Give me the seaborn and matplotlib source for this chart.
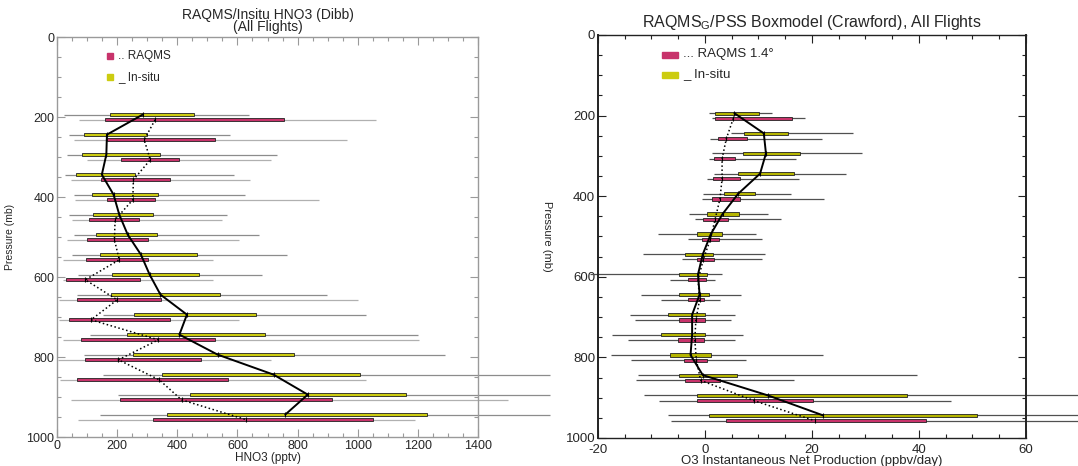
import numpy as np
import matplotlib
matplotlib.use('Agg')
import matplotlib.pyplot as plt
import seaborn as sns
from matplotlib.patches import Rectangle
from matplotlib.ticker import MultipleLocator

# ---------------- data ----------------
levels = [200, 250, 300, 350, 400, 450, 500, 550, 600, 650, 700, 750, 800, 850, 900, 950]

# Left panel: HNO3 (pptv)
hno3_ins_min = [24, 39, 33, 27, 58, 41, 58, 50, 70, 67, 154, 111, 91, 152, 204, 142]
hno3_ins_q1 = [175, 90, 84, 64, 116, 120, 131, 142, 184, 180, 257, 233, 253, 348, 443, 365]
hno3_ins_med = [285, 166, 164, 149, 188, 207, 235, 279, 308, 344, 432, 407, 534, 720, 834, 759]
hno3_ins_q3 = [457, 299, 344, 259, 336, 318, 333, 465, 471, 542, 662, 692, 788, 1007, 1159, 1229]
hno3_ins_max = [640, 576, 732, 590, 624, 564, 671, 765, 681, 898, 1028, 1200, 1290, 1640, 1640, 1640]

hno3_raq_min = [74, 55, 100, 48, 59, 50, 33, 19, 20, 8, 8, 19, 4, 11, 47, 71]
hno3_raq_q1 = [161, 166, 213, 146, 166, 105, 100, 95, 31, 67, 41, 80, 93, 67, 211, 320]
hno3_raq_med = [326, 290, 310, 254, 252, 193, 191, 207, 94, 200, 113, 337, 204, 340, 414, 630]
hno3_raq_q3 = [754, 527, 406, 377, 325, 273, 302, 302, 276, 346, 377, 524, 479, 568, 914, 1052]
hno3_raq_max = [1061, 965, 712, 643, 870, 549, 606, 520, 519, 1002, 606, 1205, 712, 1027, 1500, 1190]

# Right panel: O3 instantaneous net production (ppbv/day)
o3_ins_min = [0.8, 4.8, 1.3, 1.7, -0.4, -2.9, -8.7, -11.5, -21.5, -11.9, -14.0, -17.4, -17.5, -12.5, -11.4, -6.9]
o3_ins_q1 = [1.9, 7.3, 7.2, 6.2, 3.5, 0.4, -1.5, -3.7, -4.8, -4.8, -7.0, -8.3, -6.5, -4.8, -1.5, 0.7]
o3_ins_med = [5.5, 11.0, 11.4, 10.3, 6.2, 3.3, 1.1, -0.4, -1.3, -1.0, -2.4, -2.4, -2.7, -0.4, 11.7, 22.1]
o3_ins_q3 = [10.1, 15.6, 17.8, 16.6, 9.4, 6.3, 3.2, 1.5, 0.3, 0.7, 0.1, 0.1, 1.2, 6.0, 37.7, 50.8]
o3_ins_max = [12.5, 27.7, 29.4, 26.4, 16.0, 11.7, 9.6, 11.2, 3.1, 6.7, 5.6, 7.2, 22.1, 39.7, 75.0, 75.0]

o3_raq_min = [1.3, 1.0, 0.8, 0.3, -0.5, -1.8, -3.1, -4.2, -6.5, -8.3, -13.0, -14.4, -13.8, -12.8, -8.5, -6.3]
o3_raq_q1 = [1.9, 2.4, 1.7, 1.5, 1.3, -0.3, -0.6, -1.4, -3.2, -3.2, -4.9, -5.1, -3.9, -3.7, -1.5, 4.0]
o3_raq_med = [5.3, 4.0, 3.2, 3.2, 2.8, 1.9, 1.0, -0.3, -1.3, -1.0, -1.7, -1.9, -1.6, -0.8, 9.1, 20.5]
o3_raq_q3 = [16.2, 7.8, 5.6, 6.6, 6.5, 4.4, 2.6, 1.7, 0.2, -0.1, 0.0, -0.1, 0.3, 2.8, 20.2, 41.3]
o3_raq_max = [18.7, 21.9, 17.0, 17.5, 22.3, 14.2, 10.6, 10.6, 1.9, 2.8, 4.9, 5.7, 7.6, 16.6, 46.0, 70.0]

# ---------------- style ----------------
sns.set_style('ticks')
plt.rcParams['font.family'] = ['Liberation Sans', 'DejaVu Sans']
plt.rcParams['axes.unicode_minus'] = False

PINK = '#c8336b'
YEL_L = '#cccc10'
YEL_R = '#b5b500'

fig = plt.figure(figsize=(10.78, 4.66), dpi=100)
axL = fig.add_axes([0.0529, 0.0622, 0.3905, 0.8584])
axR = fig.add_axes([0.5547, 0.0601, 0.397, 0.8648])


def draw_panel(ax, ins, raq, col_ins, col_raq, wcol_ins, wcol_raq, h=8, off_ins=-6, off_raq=7):
    lev = np.array(levels, dtype=float)
    out = []
    for stats, off, col, wcol in ((ins, off_ins, col_ins, wcol_ins), (raq, off_raq, col_raq, wcol_raq)):
        mn, q1, md, q3, mx = [np.array(s, dtype=float) for s in stats]
        y = lev + off
        ax.hlines(y, mn, mx, color=wcol, lw=0.9, clip_on=False, zorder=1)
        ax.barh(y, q3 - q1, left=q1, height=h, color=col, edgecolor='#222222', lw=0.6, zorder=2)
        ax.vlines(md, y - h * 0.75, y + h * 0.75, color='k', lw=0.8, zorder=3)
        out.append((md, y))
    (mi, yi), (mr, yr) = out
    sns.lineplot(x=mi, y=yi, sort=False, estimator=None, color='k', lw=1.4, ax=ax, zorder=4)
    sns.lineplot(x=mr, y=yr, sort=False, estimator=None, color='k', lw=1.1, linestyle=':', ax=ax, zorder=4)


draw_panel(axL,
           (hno3_ins_min, hno3_ins_q1, hno3_ins_med, hno3_ins_q3, hno3_ins_max),
           (hno3_raq_min, hno3_raq_q1, hno3_raq_med, hno3_raq_q3, hno3_raq_max),
           YEL_L, PINK, '#8c8c8c', '#b0b0b0')
draw_panel(axR,
           (o3_ins_min, o3_ins_q1, o3_ins_med, o3_ins_q3, o3_ins_max),
           (o3_raq_min, o3_raq_q1, o3_raq_med, o3_raq_q3, o3_raq_max),
           YEL_R, PINK, '#505050', '#505050')

# ---------------- axes formatting ----------------
for ax, spc, tcol, fs in ((axL, '#9a9a9a', '#9a9a9a', 9), (axR, '#222222', '#222222', 9.5)):
    ax.set_ylim(1000, 0)
    ax.yaxis.set_major_locator(MultipleLocator(200))
    ax.yaxis.set_minor_locator(MultipleLocator(50))
    ax.tick_params(which='both', direction='in', top=True, right=True, color=tcol,
                   labelsize=fs, width=0.8)
    ax.tick_params(which='major', length=6, pad=2)
    ax.tick_params(which='minor', length=3)
    for s in ax.spines.values():
        s.set_color(spc)
        s.set_linewidth(1.0)
    ax.set_xlabel('')
    ax.set_ylabel('')

axR.tick_params(axis='x', which='major', pad=4)

axL.set_xlim(0, 1400)
axL.xaxis.set_major_locator(MultipleLocator(200))
axL.xaxis.set_minor_locator(MultipleLocator(50))
axR.set_xlim(-20, 60)
axR.xaxis.set_major_locator(MultipleLocator(20))
axR.xaxis.set_minor_locator(MultipleLocator(5))
axR.spines['left'].set_linewidth(1.4)
axR.spines['right'].set_linewidth(1.4)

axL.set_title('RAQMS/Insitu HNO3 (Dibb)\n(All Flights)', fontsize=10, pad=4, linespacing=0.85)
axR.set_title(r'RAQMS$_\mathregular{G}$/PSS Boxmodel (Crawford), All Flights', fontsize=11.5, pad=6)
axL.set_xlabel('HNO3 (pptv)', fontsize=8.5)
axR.set_xlabel('O3 Instantaneous Net Production (ppbv/day)', fontsize=9.5)
axL.xaxis.set_label_coords(0.5, -0.037)
axR.xaxis.set_label_coords(0.5, -0.042)
axL.set_ylabel('Pressure (mb)', fontsize=7.5)
axL.yaxis.set_label_coords(-0.10, 0.5)
axR.set_ylabel('Pressure (mb)', fontsize=8, rotation=270, va='center')
axR.yaxis.set_label_coords(-0.118, 0.5)

# ---------------- legends ----------------
axL.plot([0.126], [0.952], marker='s', ms=4.5, color=PINK, mec=PINK, transform=axL.transAxes, clip_on=False)
axL.plot([0.126], [0.900], marker='s', ms=4.5, color=YEL_L, mec=YEL_L, transform=axL.transAxes, clip_on=False)
axL.text(0.145, 0.952, '.. RAQMS', transform=axL.transAxes, va='center', fontsize=8.5)
axL.text(0.145, 0.900, '_ In-situ', transform=axL.transAxes, va='center', fontsize=8.5)

axR.add_patch(Rectangle((0.150, 0.943), 0.036, 0.016, transform=axR.transAxes, color=PINK, clip_on=False))
axR.add_patch(Rectangle((0.150, 0.893), 0.036, 0.016, transform=axR.transAxes, color=YEL_L, clip_on=False))
axR.text(0.198, 0.953, '... RAQMS 1.4°', transform=axR.transAxes, va='center', fontsize=9.5)
axR.text(0.198, 0.903, '_ In-situ', transform=axR.transAxes, va='center', fontsize=9.5)

fig.savefig('out.png', dpi=100)
